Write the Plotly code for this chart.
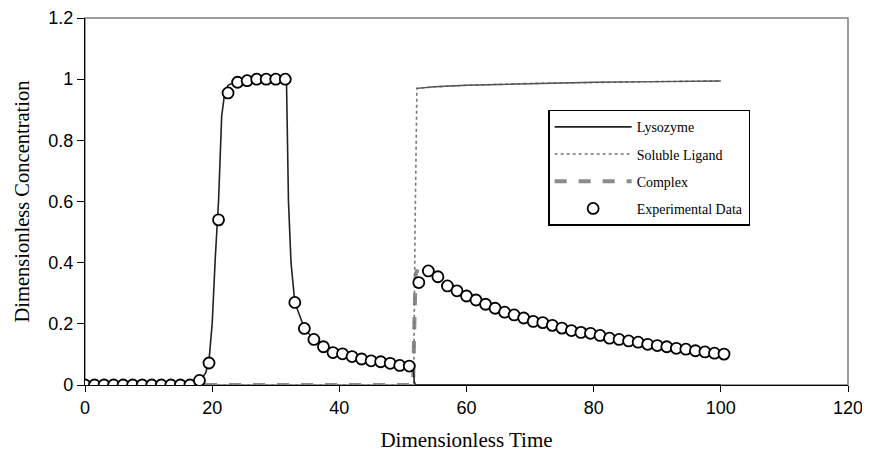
import plotly.graph_objects as go

# Experimental data (every 1.5 time units)
exp_t = [i * 1.5 for i in range(68)]
exp_c = [0, 0, 0, 0, 0, 0, 0, 0, 0, 0, 0, 0,
         0.015, 0.072, 0.54, 0.955, 0.99, 0.995, 1.0, 1.0, 1.0, 1.0,
         0.27, 0.185, 0.149, 0.125, 0.106, 0.102, 0.093, 0.085, 0.079, 0.076,
         0.071, 0.064, 0.062,
         0.335, 0.373, 0.354, 0.324, 0.308, 0.291, 0.278, 0.264, 0.251, 0.238,
         0.229, 0.219, 0.208, 0.204, 0.195, 0.186, 0.178, 0.172, 0.169, 0.162,
         0.153, 0.149, 0.144, 0.140, 0.133, 0.129, 0.125, 0.120, 0.117, 0.112,
         0.108, 0.104, 0.101]

# Model curves
lys_t = [0, 17, 18, 19, 19.5, 20, 20.5, 21, 21.5, 22, 22.5, 23.5, 26, 31, 31.5, 31.7,
         32.0, 32.4, 33, 34.5, 36, 37.5, 39, 40.5, 42, 43.5, 45, 46.5, 48, 49.5, 51,
         51.6, 51.8, 52, 100]
lys_c = [0, 0, 0.01, 0.04, 0.08, 0.2, 0.42, 0.6, 0.88, 0.96, 0.98, 0.99, 0.995, 1.0, 1.0, 0.98,
         0.6, 0.4, 0.27, 0.185, 0.149, 0.125, 0.108, 0.100, 0.093, 0.086, 0.080, 0.075,
         0.070, 0.065, 0.062, 0.06, 0.01, 0, 0]

lig_t = [0, 51.7, 51.9, 52.1, 52.2, 55, 60, 70, 80, 90, 100]
lig_c = [0, 0, 0.5, 0.95, 0.970, 0.975, 0.980, 0.986, 0.990, 0.992, 0.994]

cpx_t = [0, 51.6, 51.8, 52.0, 52.3, 54, 55.5, 57, 60, 63, 66, 70.5, 75, 79.5, 84, 88.5,
         93, 97.5, 100]
cpx_c = [0, 0, 0.2, 0.36, 0.378, 0.372, 0.355, 0.326, 0.292, 0.265, 0.240, 0.210, 0.187,
         0.169, 0.150, 0.134, 0.120, 0.108, 0.102]

x_ticks = [0, 20, 40, 60, 80, 100, 120]
y_ticks = [0, 0.2, 0.4, 0.6, 0.8, 1.0, 1.2]
y_tick_text = ["0", "0.2", "0.4", "0.6", "0.8", "1", "1.2"]

serif = "Liberation Serif, Times New Roman, serif"
sans = "Liberation Sans, Arial, sans-serif"

fig = go.Figure()
fig.add_trace(go.Scatter(x=cpx_t, y=cpx_c, mode="lines", name="Complex",
                         line=dict(color="#8a8a8a", width=4, dash="dash"),
                         legendrank=3, legendgroup="c"))
fig.add_trace(go.Scatter(x=lig_t, y=lig_c, mode="lines", name="Soluble Ligand",
                         line=dict(color="#777777", width=1.6, dash="dot"),
                         legendrank=2, legendgroup="b"))
# plateau of the soluble ligand curve renders as a continuous thin line in the reference
fig.add_trace(go.Scatter(x=lig_t[4:], y=lig_c[4:], mode="lines", showlegend=False,
                         line=dict(color="#555555", width=1.4), hoverinfo="skip",
                         legendgroup="b"))
fig.add_trace(go.Scatter(x=lys_t, y=lys_c, mode="lines", name="Lysozyme",
                         line=dict(color="#222222", width=1.6),
                         legendrank=1, legendgroup="a"))
fig.add_trace(go.Scatter(x=exp_t, y=exp_c, mode="markers", name="Experimental Data",
                         marker=dict(symbol="circle", size=11, color="white",
                                     line=dict(color="black", width=1.8)),
                         legendrank=4, legendgroup="d"))

fig.add_shape(type="rect", xref="x domain", yref="y domain", x0=0, x1=1, y0=0, y1=1,
              line=dict(color="#808080", width=1.5), layer="below")

fig.update_layout(
    width=862, height=452,
    margin=dict(l=77, r=22, t=10, b=75, autoexpand=False),
    plot_bgcolor="white", paper_bgcolor="white",
    showlegend=True,
    legend=dict(x=0.607, y=0.75, xanchor="left", yanchor="top",
                bordercolor="black", borderwidth=1.5, bgcolor="white",
                font=dict(family=serif, size=14, color="black"),
                traceorder="grouped", tracegroupgap=6, itemwidth=77),
    xaxis=dict(range=[0, 120], tickvals=x_ticks, showgrid=False, zeroline=False,
               showline=True, linecolor="black", linewidth=1.2, automargin=False,
               ticks="outside", ticklen=6, tickcolor="black",
               tickfont=dict(family=sans, size=18, color="black"),
               title=dict(text="Dimensionless Time",
                          font=dict(family=serif, size=21, color="black"), standoff=15)),
    yaxis=dict(range=[0, 1.2], tickvals=y_ticks, ticktext=y_tick_text, showgrid=False,
               zeroline=False, showline=True, linecolor="black", linewidth=1.2,
               automargin=False,
               ticks="outside", ticklen=7, tickcolor="black",
               tickfont=dict(family=sans, size=18, color="black"),
               title=dict(text="Dimensionless Concentration",
                          font=dict(family=serif, size=20.5, color="black"), standoff=13)),
)

fig.write_html("out.html")
